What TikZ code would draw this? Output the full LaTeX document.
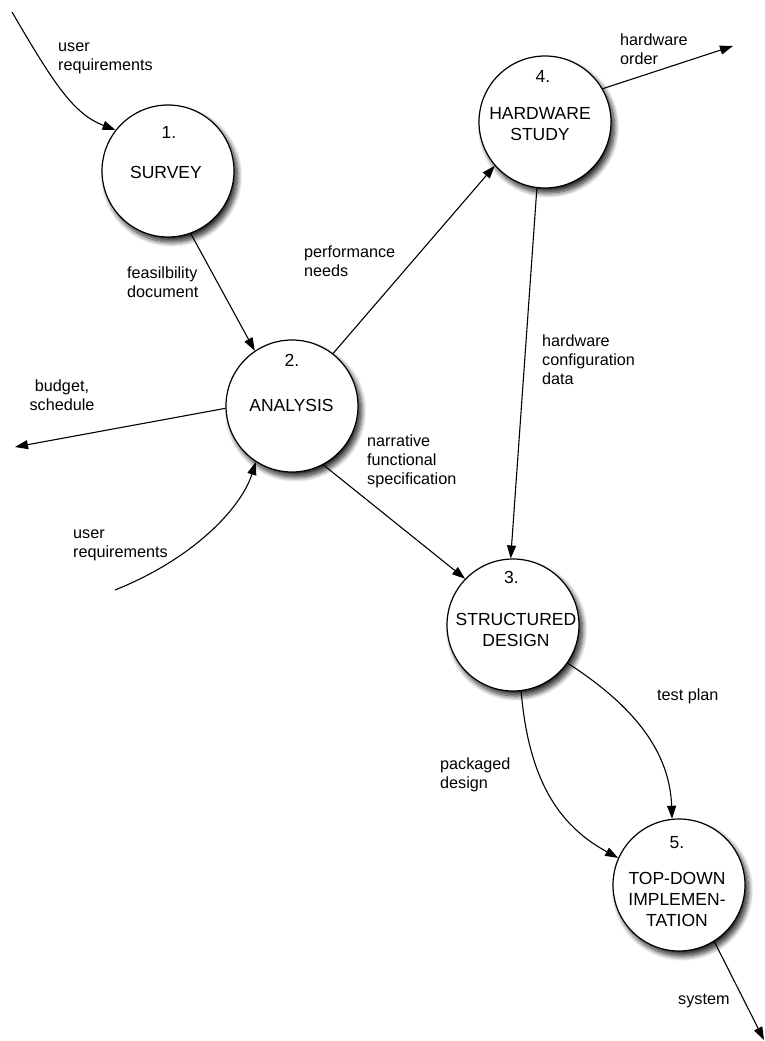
\documentclass[tikz,border=0pt]{standalone}
\usepackage{fontspec}
\setmainfont{Liberation Sans}
\usetikzlibrary{arrows.meta,shadows.blur}
\begin{document}
\begin{tikzpicture}[x=1pt,y=-1pt,
  process/.style={circle, draw, line width=1.2pt, fill=white,
    minimum size=132pt, inner sep=0pt,
    blur shadow={shadow xshift=3.5pt, shadow yshift=-5pt,
      shadow blur radius=5pt, shadow blur steps=10, shadow opacity=85}},
  flow/.style={line width=1.1pt, -{Triangle[length=13pt,width=9pt]}},
  lbl/.style={font=\fontsize{16.2}{19}\selectfont, align=left,
    inner sep=0pt, anchor=west},
  num/.style={font=\fontsize{17.5}{21}\selectfont, inner sep=0pt},
  title/.style={font=\fontsize{17.5}{21}\selectfont, align=center,
    inner sep=0pt},
]
\useasboundingbox (0,0) rectangle (765,1041);

% processes
\node[process] (c1) at (168,171) {};
\node[process] (c4) at (545,122) {};
\node[process] (c2) at (292,406) {};
\node[process] (c3) at (513,625) {};
\node[process] (c5) at (679,885) {};

% process numbers and names
\node[num]   (n1) at (169,132) {1.};
\node[title] (t1) at (166,172) {SURVEY};
\node[num]   (n4) at (543,76) {4.};
\node[title] (t4) at (540,124) {HARDWARE\\STUDY};
\node[num]   (n2) at (292,360) {2.};
\node[title] (t2) at (291.5,405) {ANALYSIS};
\node[num]   (n3) at (511.5,577) {3.};
\node[title] (t3) at (516,630) {STRUCTURED\\DESIGN};
\node[num]   (n5) at (677,843) {5.};
\node[title] (t5) at (677,899) {TOP-DOWN\\IMPLEMEN-\\TATION};

% free ends of external flows
\coordinate (src1) at (12,12);
\coordinate (src2) at (115,590);
\coordinate (hwout) at (733,46);
\coordinate (budgetout) at (15,447);
\coordinate (sysout) at (764,1040);

% data flows
\draw[flow] (src1) .. controls +(42,72) and +(-42,-16) .. (c1.142);
\draw[flow] (c1.290) -- (c2.124);
\draw[flow] (c2.52) -- (c4.221);
\draw[flow] (c4.30) -- (hwout);
\draw[flow] (c2.182) -- (budgetout);
\draw[flow] (src2) .. controls +(80,-32) and +(-14,45) .. (c2.237);
\draw[flow] (c4.263) -- (c3.92);
\draw[flow] (c2.298) -- (c3.136);
\draw[flow] (c3.325) .. controls +(75,48) and +(-2,-60) .. (c5.96);
\draw[flow] (c3.277) .. controls +(8,95) and +(-55,-30) .. (c5.156);
\draw[flow] (c5.302) -- (sysout);

% flow labels
\node[lbl] (l1) at (58,58.7) {user\\requirements};
\node[lbl] (l2) at (127,282) {feasilbility\\document};
\node[lbl] (l3) at (304,261) {performance\\needs};
\node[lbl] (l4) at (620,49.4) {hardware\\order};
\node[lbl, align=center, anchor=center] (l5) at (62,395) {budget,\\schedule};
\node[lbl] (l6) at (542,359.4) {hardware\\configuration\\data};
\node[lbl] (l7) at (367,461.5) {narrative\\functional\\specification};
\node[lbl] (l8) at (73,545) {user\\requirements};
\node[lbl] (l9) at (657,696) {test plan};
\node[lbl] (l10) at (440,774.5) {packaged\\design};
\node[lbl] (l11) at (678,1000.5) {system};
\end{tikzpicture}
\end{document}
